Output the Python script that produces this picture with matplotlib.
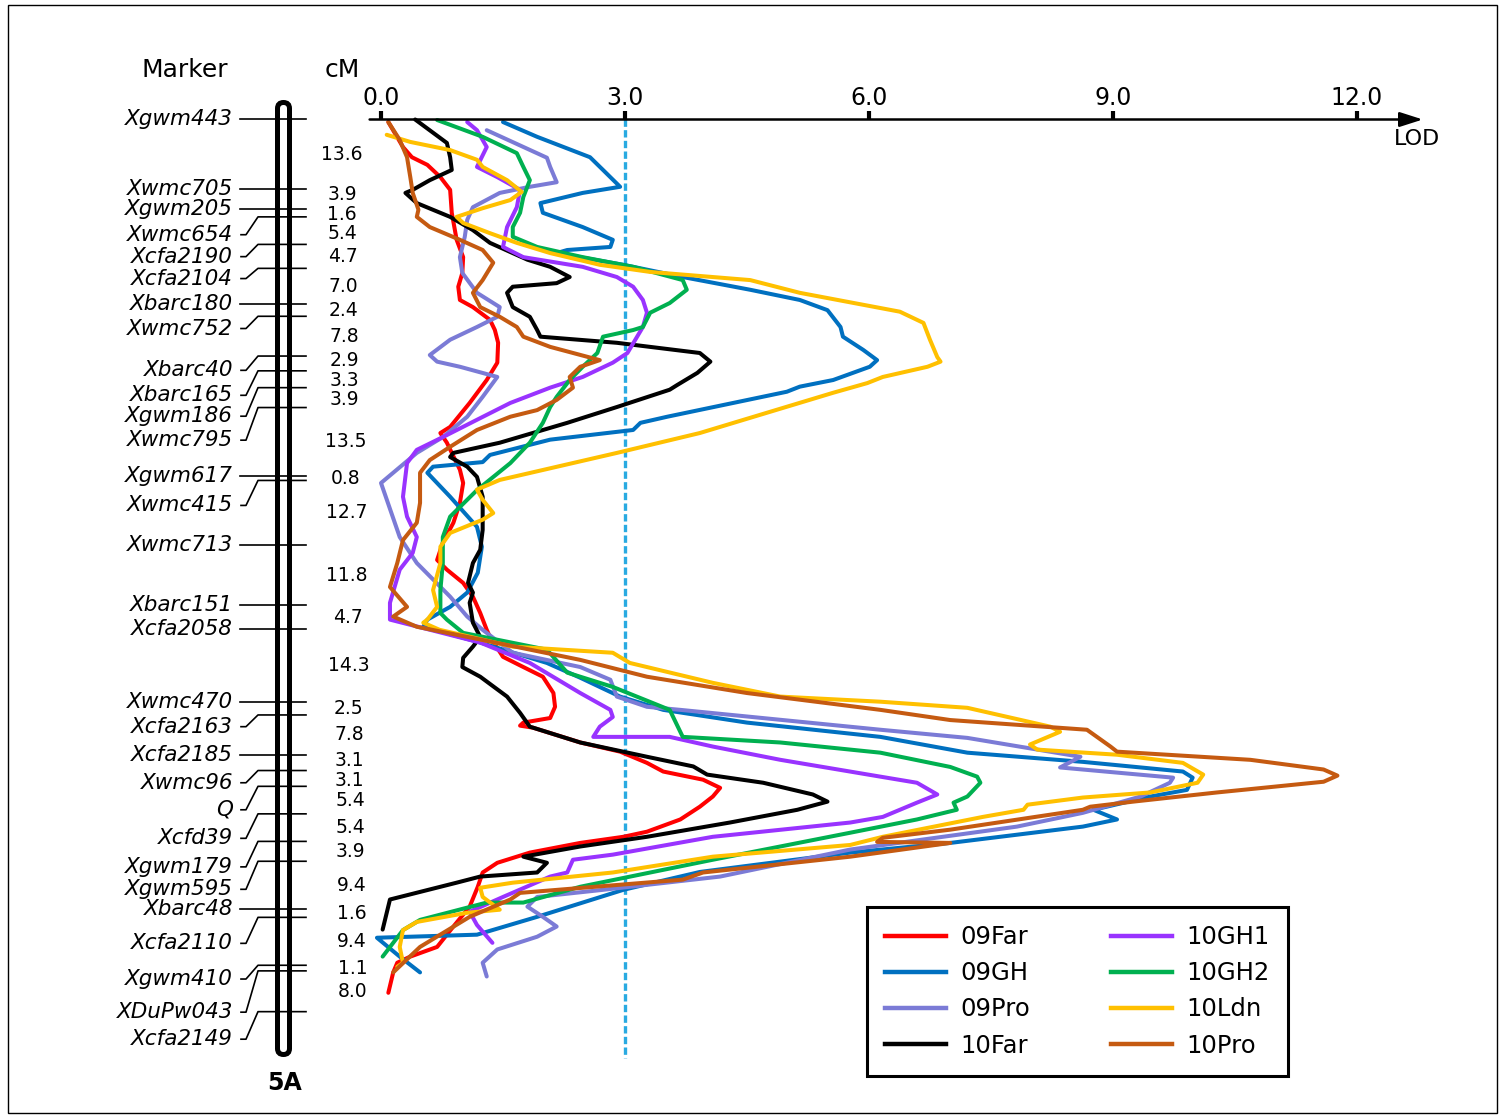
import numpy as np
import matplotlib
matplotlib.use("Agg")
import matplotlib.pyplot as plt
import matplotlib.patches as mpatches
from matplotlib.lines import Line2D
from matplotlib.transforms import blended_transform_factory

plt.rcParams["font.family"] = ["DejaVu Sans"]

# ---------------- linkage map of chromosome 5A ----------------
markers = ["Xgwm443", "Xwmc705", "Xgwm205", "Xwmc654", "Xcfa2190", "Xcfa2104",
           "Xbarc180", "Xwmc752", "Xbarc40", "Xbarc165", "Xgwm186", "Xwmc795",
           "Xgwm617", "Xwmc415", "Xwmc713", "Xbarc151", "Xcfa2058", "Xwmc470",
           "Xcfa2163", "Xcfa2185", "Xwmc96", "Q", "Xcfd39", "Xgwm179", "Xgwm595",
           "Xbarc48", "Xcfa2110", "Xgwm410", "XDuPw043", "Xcfa2149"]
intervals = [13.6, 3.9, 1.6, 5.4, 4.7, 7.0, 2.4, 7.8, 2.9, 3.3, 3.9, 13.5, 0.8,
             12.7, 11.8, 4.7, 14.3, 2.5, 7.8, 3.1, 3.1, 5.4, 5.4, 3.9, 9.4, 1.6,
             9.4, 1.1, 8.0]
marker_cm = np.concatenate([[0.0], np.cumsum(intervals)])

# where the marker names sit (cM) once spread apart so they don't overlap
label_cm = [0.0, 13.6, 17.5, 22.6, 26.9, 31.2, 36.2, 41.0, 49.2, 54.1, 58.2, 62.9,
            70.0, 75.7, 83.5, 95.3, 100.0, 114.3, 119.1, 124.6, 130.1, 135.4,
            141.0, 146.6, 151.0, 154.9, 161.6, 168.6, 175.1, 180.4]

lod_ticks = [0.0, 3.0, 6.0, 9.0, 12.0]
threshold = 3.0

# ---------------- LOD profiles: (position cM, LOD) ----------------
prof_09far = [(0.5, 0.09), (5.4, 0.27), (7.4, 0.38), (8.9, 0.57), (11.3, 0.73),
              (13.8, 0.85), (18.3, 0.87), (23.6, 0.93), (27.0, 1.01), (30.1, 1.00),
              (32.8, 0.95), (35.4, 0.97), (36.8, 1.13), (39.3, 1.34), (41.3, 1.40),
              (43.8, 1.44), (47.7, 1.43), (51.1, 1.30), (55.6, 1.09), (60.3, 0.85),
              (61.5, 0.73), (63.4, 0.81), (68.7, 0.97), (71.3, 1.01), (75.2, 0.97),
              (79.1, 0.89), (83.0, 0.76), (86.4, 0.69), (88.3, 0.81), (90.9, 1.01),
              (93.6, 1.13), (96.8, 1.22), (100.1, 1.30), (101.5, 1.34), (105.4, 1.50),
              (107.4, 1.75), (109.3, 1.99), (112.5, 2.12), (115.2, 2.14), (117.4, 2.08),
              (118.3, 1.75), (118.9, 1.71), (119.3, 1.87), (122.2, 2.45), (124.0, 2.94),
              (126.2, 3.27), (127.9, 3.47), (129.5, 3.96), (131.1, 4.17), (132.8, 4.08),
              (134.8, 3.92), (137.3, 3.68), (139.7, 3.27), (140.7, 2.98), (141.9, 2.45),
              (143.8, 1.83), (145.8, 1.43), (147.7, 1.25), (150.5, 1.19), (154.4, 1.09),
              (158.3, 0.89), (162.3, 0.69), (164.2, 0.36), (165.4, 0.20), (167.3, 0.15),
              (171.3, 0.09)]

prof_09gh = [(0.5, 1.50), (3.4, 1.92), (7.4, 2.57), (9.9, 2.73), (13.2, 2.94),
             (14.4, 2.48), (16.4, 1.96), (18.3, 1.99), (21.1, 2.48), (23.6, 2.85),
             (25.0, 2.82), (25.6, 2.29), (26.2, 2.16), (28.5, 2.98), (30.9, 3.71),
             (33.4, 4.54), (35.4, 5.15), (37.4, 5.49), (40.7, 5.65), (42.6, 5.68),
             (45.2, 5.93), (47.2, 6.10), (48.5, 6.01), (51.1, 5.56), (52.4, 5.15),
             (53.4, 4.99), (55.6, 4.33), (58.3, 3.52), (59.5, 3.19), (60.9, 3.10),
             (62.8, 2.08), (65.8, 1.34), (67.2, 1.25), (68.1, 0.64), (69.3, 0.57),
             (74.0, 0.85), (79.9, 1.18), (83.8, 1.24), (88.9, 1.19), (92.8, 1.06),
             (95.6, 0.85), (98.1, 0.57), (99.5, 0.52), (102.6, 1.22), (106.6, 2.04),
             (109.5, 2.45), (113.2, 2.94), (115.8, 3.47), (118.3, 4.50), (121.1, 6.14),
             (124.2, 7.21), (126.0, 8.63), (127.9, 9.86), (129.1, 9.98), (131.5, 9.91),
             (132.8, 9.46), (135.4, 8.76), (137.3, 9.05), (138.7, 8.63), (141.9, 7.00),
             (143.8, 5.77), (147.6, 3.92), (151.1, 2.98), (156.4, 1.92), (159.9, 1.18),
             (160.5, -0.05), (164.2, 0.23), (167.3, 0.48)]

prof_09pro = [(2.1, 1.30), (7.5, 2.04), (9.3, 2.08), (12.3, 2.16), (13.2, 1.83),
              (14.4, 1.46), (17.2, 1.13), (19.7, 1.06), (23.0, 1.03), (27.0, 0.97),
              (30.1, 1.00), (34.0, 1.18), (36.8, 1.46), (38.7, 1.43), (40.7, 1.18),
              (43.2, 0.85), (46.2, 0.60), (47.5, 0.69), (48.5, 0.97), (50.5, 1.43),
              (54.4, 1.25), (58.3, 1.06), (62.3, 0.76), (65.4, 0.44), (71.3, 0.00),
              (81.9, 0.23), (87.0, 0.44), (93.6, 0.85), (97.5, 1.06), (100.1, 1.25),
              (104.6, 1.62), (107.4, 2.45), (109.9, 2.82), (113.2, 2.90), (115.2, 3.27),
              (115.8, 3.68), (119.7, 6.14), (121.3, 7.21), (125.0, 8.60), (127.1, 8.35),
              (129.1, 9.74), (130.1, 9.70), (132.8, 9.34), (136.0, 8.63), (138.7, 7.82),
              (143.2, 5.77), (148.5, 4.17), (151.1, 2.73), (152.5, 1.92), (154.4, 1.80),
              (156.4, 1.99), (158.3, 2.16), (160.3, 1.92), (162.8, 1.43), (165.4, 1.25),
              (168.1, 1.30)]

prof_10far = [(0.0, 0.42), (4.6, 0.81), (7.4, 0.85), (9.9, 0.87), (11.9, 0.60),
              (13.8, 0.39), (14.4, 0.30), (16.4, 0.44), (19.1, 0.85), (21.7, 1.13),
              (24.2, 1.34), (27.5, 1.80), (28.9, 2.08), (30.9, 2.32), (32.1, 2.16),
              (32.8, 1.62), (34.0, 1.55), (36.8, 1.62), (38.7, 1.83), (41.3, 1.92),
              (42.6, 1.96), (43.8, 2.90), (45.8, 3.92), (47.5, 4.05), (49.7, 3.89),
              (52.1, 3.64), (53.0, 3.55), (56.4, 2.90), (59.5, 2.29), (63.4, 1.46),
              (65.4, 0.89), (66.2, 0.85), (68.1, 1.06), (70.1, 1.18), (74.0, 1.25),
              (80.5, 1.25), (84.4, 1.22), (87.0, 1.13), (90.9, 1.07), (92.8, 1.13),
              (94.8, 1.09), (98.7, 1.13), (101.5, 1.22), (103.4, 1.13), (105.6, 1.01),
              (107.4, 1.00), (109.3, 1.22), (113.2, 1.55), (116.4, 1.71), (119.1, 1.83),
              (122.2, 2.45), (125.0, 3.27), (126.9, 3.84), (128.5, 4.01), (130.1, 4.70),
              (132.4, 5.31), (133.8, 5.49), (135.4, 5.12), (137.9, 4.29), (140.7, 3.27),
              (142.6, 2.45), (144.6, 1.75), (145.8, 2.04), (147.7, 1.92), (148.5, 1.22),
              (149.7, 0.93), (153.0, 0.11), (158.9, 0.02)]

prof_10gh1 = [(0.5, 1.06), (2.1, 1.18), (5.4, 1.30), (9.3, 1.18), (11.3, 1.43),
              (13.8, 1.71), (17.2, 1.67), (21.1, 1.55), (25.0, 1.50), (27.0, 1.75),
              (28.9, 2.48), (30.9, 2.90), (32.8, 3.10), (35.4, 3.22), (37.9, 3.27),
              (40.7, 3.22), (45.8, 3.03), (47.7, 2.85), (50.5, 2.48), (52.6, 2.08),
              (55.6, 1.59), (58.9, 1.18), (62.3, 0.76), (64.8, 0.44), (67.4, 0.32),
              (74.0, 0.27), (77.9, 0.32), (81.9, 0.44), (85.0, 0.39), (88.3, 0.23),
              (94.8, 0.11), (98.1, 0.11), (102.6, 1.22), (106.6, 1.83), (112.5, 2.45),
              (115.8, 2.82), (117.2, 2.85), (119.1, 2.69), (121.1, 2.61), (121.1, 3.55),
              (123.0, 4.08), (125.6, 4.91), (128.9, 6.14), (130.1, 6.59), (132.4, 6.84),
              (134.0, 6.59), (136.8, 6.17), (137.9, 5.77), (140.7, 4.08), (144.2, 2.85),
              (145.2, 2.36), (147.7, 2.29), (148.5, 2.08), (152.5, 1.50), (155.4, 1.09),
              (158.0, 1.18), (161.5, 1.37)]

prof_10gh2 = [(0.1, 0.69), (3.4, 1.25), (6.6, 1.67), (9.3, 1.75), (11.9, 1.83),
              (15.2, 1.75), (18.3, 1.71), (21.1, 1.62), (23.0, 1.62), (25.0, 1.92),
              (27.0, 2.48), (28.9, 3.10), (31.5, 3.71), (33.4, 3.76), (36.0, 3.55),
              (37.9, 3.31), (40.7, 3.22), (41.3, 3.10), (42.6, 2.73), (45.8, 2.66),
              (48.5, 2.48), (51.1, 2.32), (54.4, 2.16), (56.4, 2.08), (59.5, 1.99),
              (63.4, 1.83), (67.4, 1.59), (72.7, 1.18), (77.9, 0.85), (81.9, 0.76),
              (87.0, 0.76), (92.3, 0.73), (96.8, 0.73), (98.1, 0.81), (100.7, 1.01),
              (104.0, 2.04), (108.5, 2.29), (111.3, 2.85), (115.8, 3.55), (121.1, 3.71),
              (122.2, 4.91), (124.2, 6.14), (127.0, 7.00), (128.9, 7.33), (130.1, 7.37),
              (132.8, 7.21), (134.0, 7.04), (135.4, 7.08), (137.3, 6.59), (139.9, 5.77),
              (145.2, 4.08), (150.5, 2.45), (153.6, 1.75), (153.6, 1.30), (157.0, 0.48),
              (159.0, 0.27), (164.2, 0.02)]

prof_10ldn = [(3.0, 0.07), (4.4, 0.36), (6.0, 0.85), (7.9, 1.18), (9.3, 1.25),
              (11.9, 1.55), (14.2, 1.73), (15.8, 1.59), (17.4, 1.25), (19.1, 0.93),
              (20.3, 1.01), (22.3, 1.34), (24.2, 1.67), (26.2, 2.08), (28.5, 2.69),
              (29.9, 3.31), (31.5, 4.54), (34.0, 5.15), (37.7, 6.38), (39.9, 6.67),
              (43.2, 6.75), (46.6, 6.84), (47.5, 6.88), (48.5, 6.72), (50.5, 6.17),
              (51.7, 5.98), (53.6, 5.56), (57.5, 4.75), (61.5, 3.92), (65.4, 2.90),
              (70.7, 1.46), (72.6, 1.18), (74.6, 1.25), (77.2, 1.38), (78.5, 1.25),
              (81.1, 0.85), (83.8, 0.73), (87.0, 0.73), (92.3, 0.64), (95.6, 0.69),
              (98.1, 0.57), (98.7, 0.52), (100.1, 0.72), (103.4, 1.62), (104.6, 2.85),
              (106.6, 3.06), (110.5, 4.08), (113.2, 4.91), (114.2, 6.14), (115.4, 7.21),
              (119.1, 8.23), (120.1, 8.35), (122.6, 7.98), (123.6, 8.07), (124.6, 9.05),
              (126.2, 9.86), (128.5, 10.11), (130.1, 10.04), (132.0, 9.46), (133.0, 8.63),
              (134.4, 7.95), (135.4, 7.90), (136.8, 7.40), (140.7, 6.17), (142.3, 5.77),
              (144.6, 4.08), (147.7, 2.85), (149.7, 1.62), (150.7, 1.22), (152.5, 1.25),
              (155.0, 1.46), (155.6, 1.06), (157.4, 0.44), (159.0, 0.27), (162.3, 0.23),
              (165.4, 0.27), (166.2, 0.20)]

prof_10pro = [(0.5, 0.09), (4.0, 0.23), (7.4, 0.32), (11.3, 0.36), (14.4, 0.39),
              (17.7, 0.46), (19.1, 0.44), (21.1, 0.60), (23.6, 0.97), (25.6, 1.25),
              (28.1, 1.38), (31.5, 1.25), (34.0, 1.13), (36.8, 1.22), (38.7, 1.46),
              (40.7, 1.67), (42.6, 1.75), (44.6, 2.08), (47.2, 2.69), (48.5, 2.45),
              (50.5, 2.32), (52.6, 2.36), (55.0, 2.16), (57.0, 1.92), (58.3, 1.59),
              (60.9, 1.18), (64.2, 0.85), (66.8, 0.60), (69.3, 0.48), (75.2, 0.48),
              (79.1, 0.44), (82.5, 0.27), (87.0, 0.20), (91.7, 0.11), (95.6, 0.32),
              (97.5, 0.15), (99.5, 0.44), (102.0, 1.22), (106.0, 2.45), (109.3, 3.27),
              (112.5, 4.50), (115.8, 6.14), (117.8, 7.00), (119.7, 8.68), (123.0, 8.97),
              (124.0, 9.05), (125.6, 10.69), (127.5, 11.59), (128.7, 11.76), (129.9, 11.59),
              (132.0, 10.28), (133.8, 9.25), (134.8, 8.72), (135.4, 8.63), (139.3, 7.00),
              (140.9, 6.17), (141.7, 6.10), (141.9, 7.00), (144.6, 5.77), (147.7, 3.96),
              (149.1, 3.71), (151.7, 1.71), (153.0, 1.59), (156.4, 1.09), (162.3, 0.48),
              (167.3, 0.15)]

envs = ["09Far", "09GH", "09Pro", "10Far", "10GH1", "10GH2", "10Ldn", "10Pro"]
profiles = [prof_09far, prof_09gh, prof_09pro, prof_10far,
            prof_10gh1, prof_10gh2, prof_10ldn, prof_10pro]
colors = ["#FF0000", "#0070C0", "#7B7BD6", "#000000",
          "#9933FF", "#00B050", "#FFC000", "#C55A11"]

# ---------------- figure ----------------
W, H = 1499.0, 1115.0
fig = plt.figure(figsize=(W / 100, H / 100), dpi=100)
ax = fig.add_axes([0, 0, 1, 1])
ax.set_xlim(-4.685, 13.747)
ax.set_ylim(195.27, -23.44)
ax.axis("off")

# x in figure fraction, y in cM
left = blended_transform_factory(fig.transFigure, ax.transData)

# chromosome body
chrom = mpatches.FancyBboxPatch((2.775, 0.605), 0.12, 9.52,
                                boxstyle="round,pad=0,rounding_size=0.06",
                                transform=fig.dpi_scale_trans,
                                facecolor="none", edgecolor="black", lw=3.6, zorder=3)
fig.add_artist(chrom)

# marker ticks, connectors and names
for name, t, l in zip(markers, marker_cm, label_cm):
    if abs(l - t) < 0.8:
        ax.plot([240 / W, 306 / W], [t, t], color="black", lw=1.2, transform=left)
    else:
        ax.plot([241 / W, 246 / W, 258 / W, 306 / W], [l, l, t, t], color="black",
                lw=1.2, transform=left, solid_joinstyle="round")
    ax.text(233 / W, l, name, transform=left, ha="right", va="center",
            style="italic", fontsize=15.5)

# interval distances, centred in their interval and nudged apart when crowded
mids = (marker_cm[:-1] + marker_cm[1:]) / 2
ypos = mids.copy()
min_gap = 3.9
for _ in range(50):
    for i in range(len(ypos) - 1):
        d = ypos[i + 1] - ypos[i]
        if d < min_gap:
            shift = (min_gap - d) / 2
            ypos[i] -= shift
            ypos[i + 1] += shift
for iv, m, y in zip(intervals, mids, ypos):
    ax.text((341 + 12 * m / 175) / W, y, f"{iv:.1f}", transform=left,
            ha="center", va="center", fontsize=13.5)

ax.text(185 / W, -9.7, "Marker", transform=left, ha="center", va="center", fontsize=18)
ax.text(342 / W, -9.7, "cM", transform=left, ha="center", va="center", fontsize=18)
ax.text(285 / W, 189.0, "5A", transform=left, ha="center", va="center",
        fontsize=17, fontweight="bold")

# LOD axis
ax.annotate("", xy=(12.81, 0), xytext=(-0.14, 0),
            arrowprops=dict(arrowstyle="-|>,head_length=1.0,head_width=0.32",
                            lw=1.8, color="black", shrinkA=0, shrinkB=0,
                            mutation_scale=14))
ax.vlines(lod_ticks, -1.6, 0, color="black", lw=3)
for t in lod_ticks:
    ax.text(t, -4.3, f"{t:.1f}", ha="center", va="center", fontsize=17)
ax.text(12.74, 3.8, "LOD", ha="center", va="center", fontsize=16)

# threshold
ax.plot([threshold, threshold], [0, 184], color="#29AAE1", lw=2.4,
        ls=(0, (2.2, 1.0)), zorder=1)

# LOD profiles
for prof, c in zip(profiles, colors):
    pos = [p[0] for p in prof]
    lod = [p[1] for p in prof]
    ax.plot(lod, pos, color=c, lw=2.9, solid_joinstyle="round",
            solid_capstyle="round", zorder=2)

handles = [Line2D([], [], color=c, lw=3.2) for c in colors]
leg = ax.legend(handles, envs, ncol=2, loc="upper left", mode="expand",
                bbox_to_anchor=(867 / W, 1 - 908 / H, 421 / W, 0.001),
                bbox_transform=fig.transFigure, borderaxespad=0,
                frameon=True, fancybox=False, edgecolor="black", fontsize=17.5,
                handlelength=2.5, handletextpad=0.6, columnspacing=1.6,
                labelspacing=0.5, borderpad=0.75)
leg.get_frame().set_linewidth(2.2)
leg.get_frame().set_alpha(1)

# outer frame
fig.add_artist(mpatches.Rectangle((8 / W, 2 / H), 1489 / W, 1108 / H,
                                  transform=fig.transFigure, fill=False,
                                  edgecolor="black", lw=1.0))

fig.savefig("out.png", dpi=100)
